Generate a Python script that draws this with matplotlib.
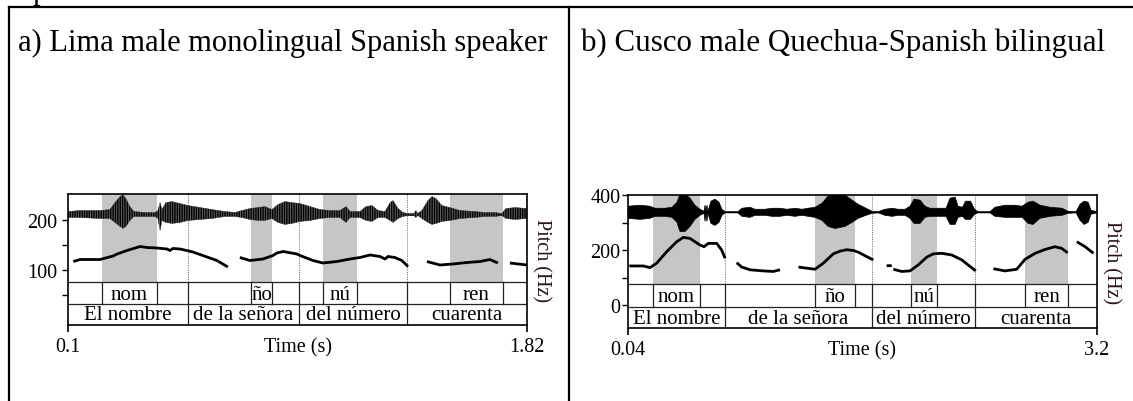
import matplotlib
matplotlib.use("Agg")
import matplotlib.pyplot as plt
from matplotlib.lines import Line2D
import numpy as np

plt.rcParams['font.family'] = ['Liberation Serif', 'DejaVu Serif']
plt.rcParams['hatch.linewidth'] = 1.0
plt.rcParams['hatch.color'] = 'black'

W, H, DPI = 1133, 402, 100
nan = np.nan

# ---------------- Panel a data ----------------
a_title = "a) Lima male monolingual Spanish speaker"
a_time_range = [0.1, 1.82]
a_time_labels = ["0.1", "1.82"]
a_pitch_range = [-10, 252]
a_pitch_major = [100, 200]
a_pitch_minor = [50, 150]
a_syllables = ["nom", "ño", "nú", "ren"]
a_syll_start = [0.227, 0.786, 1.055, 1.531]
a_syll_end = [0.433, 0.864, 1.183, 1.730]
a_words = ["El nombre", "de la señora", "del número", "cuarenta"]
a_word_bounds = [0.1, 0.550, 0.966, 1.370, 1.82]
a_f0_time = [0.120, 0.145, 0.220, 0.269, 0.284, 0.321, 0.370, 0.396, 0.433, 0.471, 0.482, 0.493, 0.520,
             0.568, 0.621, 0.658, 0.699, nan,
             0.744, 0.782, 0.831, 0.868, 0.883, 0.906, 0.958, 0.969, 1.018, 1.055, 1.108, 1.157, 1.194,
             1.232, 1.269, 1.288, 1.299, 1.325, 1.351, 1.374, nan,
             1.445, 1.494, 1.542, 1.595, 1.644, 1.681, 1.711, nan,
             1.756, 1.820]
a_f0_hz = [117, 121, 121, 128, 132, 139, 147, 145, 144, 142, 139, 143, 142,
           136, 126, 119, 106, nan,
           125, 119, 122, 129, 134, 137, 132, 129, 119, 114, 117, 122, 125,
           130, 127, 122, 127, 125, 119, 107, nan,
           117, 110, 112, 115, 117, 121, 114, nan,
           114, 110]
a_wave_time = [0.100, 0.145, 0.220, 0.257, 0.276, 0.295, 0.306, 0.317, 0.332, 0.347, 0.389, 0.426,
               0.437, 0.445, 0.452, 0.467, 0.490, 0.520, 0.550, 0.595, 0.640, 0.688, 0.726, 0.752,
               0.782, 0.812, 0.838, 0.864, 0.887, 0.913, 0.939, 0.969, 1.007, 1.044, 1.082, 1.119,
               1.142, 1.157, 1.194, 1.217, 1.239, 1.262, 1.288, 1.307, 1.318, 1.337, 1.355, 1.374,
               1.396, 1.404, 1.411, 1.426, 1.449, 1.464, 1.479, 1.501, 1.531, 1.569, 1.625, 1.662,
               1.700, 1.726, 1.741, 1.775, 1.820]
a_wave_up = [.15, .2, .2, .25, .6, .9, 1.0, .8, .4, .15, .1, .1,
             .2, .6, .25, .6, .65, .55, .45, .35, .25, .15, .1, .2,
             .3, .35, .4, .25, .5, .65, .6, .55, .4, .25, .2, .2,
             .4, .15, .15, .4, .45, .2, .15, .6, .7, .3, .1, .05,
             .05, .2, .05, .2, .7, .9, .8, .45, .35, .2, .15, .1,
             .1, .05, .3, .35, .3]
a_wave_down = [.15, .15, .2, .2, .4, .6, .7, .6, .3, .1, .1, .1,
               .2, .8, .3, .4, .45, .4, .3, .25, .2, .1, .1, .15,
               .25, .3, .3, .2, .4, .5, .45, .35, .3, .2, .15, .15,
               .4, .15, .15, .3, .35, .15, .15, .3, .4, .2, .1, .05,
               .05, .15, .05, .2, .4, .5, .45, .35, .3, .2, .15, .1,
               .1, .05, .2, .25, .2]

# ---------------- Panel b data ----------------
b_title = "b) Cusco male Quechua-Spanish bilingual"
b_time_range = [0.04, 3.2]
b_time_labels = ["0.04", "3.2"]
b_pitch_range = [-83.6, 400]
b_pitch_major = [0, 200, 400]
b_pitch_minor = [100, 300]
b_syllables = ["nom", "ño", "nú", "ren"]
b_syll_start = [0.208, 1.300, 1.947, 2.715]
b_syll_end = [0.525, 1.570, 2.122, 3.005]
b_words = ["El nombre", "de la señora", "del número", "cuarenta"]
b_word_bounds = [0.04, 0.694, 1.684, 2.378, 3.2]
b_f0_time = [0.049, 0.143, 0.188, 0.233, 0.301, 0.368, 0.413, 0.458, 0.525, 0.552, 0.581, 0.638, 0.671,
             0.694, nan,
             0.772, 0.806, 0.862, 0.952, 1.019, 1.064, nan,
             1.188, 1.244, 1.300, 1.356, 1.423, 1.469, 1.514, 1.560, 1.592, 1.648, 1.693, nan,
             1.783, 1.817, nan,
             1.828, 1.884, 1.940, 1.996, 2.053, 2.097, 2.154, 2.221, 2.289, 2.345, 2.383, nan,
             2.502, 2.580, 2.659, 2.715, 2.783, 2.850, 2.917, 2.962, 3.002, nan,
             3.064, 3.120, 3.176]
b_f0_hz = [142, 142, 136, 152, 194, 230, 246, 242, 218, 212, 224, 224, 200,
           170, nan,
           154, 138, 128, 124, 122, 128, nan,
           138, 134, 130, 152, 186, 196, 201, 198, 192, 176, 164, nan,
           143, 143, nan,
           130, 122, 124, 146, 174, 186, 188, 182, 164, 140, 124, nan,
           132, 124, 130, 166, 188, 202, 212, 206, 190, nan,
           230, 212, 188]
b_wave_time = [0.040, 0.121, 0.188, 0.222, 0.289, 0.337, 0.370, 0.390, 0.424, 0.458, 0.491, 0.525,
               0.552, 0.559, 0.566, 0.572, 0.579, 0.599, 0.626, 0.653, 0.673, 0.694, 0.781, 0.808,
               0.862, 0.896, 0.963, 1.010, 1.064, 1.111, 1.165, 1.213, 1.253, 1.300, 1.347, 1.388,
               1.435, 1.502, 1.550, 1.590, 1.644, 1.684, 1.725, 1.772, 1.819, 1.860, 1.907, 1.940,
               1.967, 2.008, 2.041, 2.075, 2.143, 2.183, 2.210, 2.244, 2.264, 2.294, 2.314, 2.348,
               2.375, 2.398, 2.479, 2.513, 2.580, 2.648, 2.695, 2.736, 2.769, 2.816, 2.884, 2.965,
               3.005, 3.059, 3.086, 3.113, 3.140, 3.160, 3.200]
b_wave_up = [.3, .35, .3, .2, .2, .25, .5, .9, .9, .7, .35, .15,
             .05, .35, .05, .35, .05, .55, .65, .5, .15, .03, .03, .2,
             .25, .15, .15, .2, .2, .15, .2, .15, .2, .25, .45, .8,
             .95, .85, .6, .4, .2, .05, .03, .15, .2, .15, .15, .3,
             .65, .6, .3, .2, .2, .2, .7, .75, .3, .25, .55, .55,
             .15, .03, .03, .25, .35, .35, .3, .5, .55, .35, .25, .2,
             .05, .03, .4, .55, .5, .1, .03]
b_wave_down = [.3, .35, .3, .2, .2, .25, .5, .95, .95, .7, .35, .15,
               .05, .45, .05, .45, .05, .55, .65, .5, .15, .03, .03, .2,
               .25, .15, .15, .2, .2, .15, .2, .15, .2, .25, .4, .7,
               .8, .7, .5, .3, .15, .05, .03, .15, .2, .15, .15, .3,
               .55, .55, .25, .2, .2, .2, .6, .6, .25, .2, .35, .35,
               .1, .03, .03, .2, .25, .25, .25, .55, .6, .3, .2, .15,
               .05, .03, .4, .6, .5, .1, .03]

# ---------------- layout / style ----------------
PITCH_BOTTOM = 0.33    # axes fraction where the tiers start
TIER_MID = 0.159       # boundary between the two tiers
WAVE_AMP = 0.152       # axes fraction for amplitude 1
GRAY = '#c6c6c6'
FS = 14.5
TIER_FS = 15
TITLE_FS = 22

fig = plt.figure(figsize=(W / DPI, H / DPI), dpi=DPI)
fig.patch.set_facecolor('white')

# outer table lines
for (xs, ys) in [([9, W], [8, 8]), ([9, 9], [8, H]), ([569, 569], [8, H])]:
    fig.add_artist(Line2D([x / W for x in xs], [1 - y / H for y in ys],
                          transform=fig.transFigure, color='black', lw=1.6))

fig.text(33 / W, 1 + 1.5 / H, "p", fontsize=TITLE_FS, va='baseline', ha='left')
fig.text(18 / W, 1 - 51 / H, a_title, fontsize=TITLE_FS, va='baseline', ha='left')
fig.text(581 / W, 1 - 51 / H, b_title, fontsize=22.3, va='baseline', ha='left')


def draw_panel(rect, time_range, time_labels, pitch_range, major, minor,
               syll, s0, s1, words, wb, f0t, f0hz, wt, wup, wdn,
               wave_base, ylab_pad, tier_base1, tier_base2, textured):
    x0, y0, x1, y1 = rect
    hpx = y1 - y0
    ax = fig.add_axes([x0 / W, 1 - y1 / H, (x1 - x0) / W, hpx / H])
    ax.set_xlim(time_range)
    ax.set_ylim(pitch_range)
    ax.set_facecolor('white')
    xt = ax.get_xaxis_transform()

    # shaded stressed syllables in pitch area
    for a, b in zip(s0, s1):
        ax.axvspan(a, b, ymin=PITCH_BOTTOM, ymax=1, color=GRAY, lw=0, zorder=1)

    # word boundaries
    for b in wb[1:-1]:
        ax.plot([b, b], [PITCH_BOTTOM, 1], transform=xt, color='#777777', lw=0.7,
                ls=(0, (1.2, 1.2)), zorder=2)
        ax.plot([b, b], [0, PITCH_BOTTOM], transform=xt, color='#222222', lw=0.9, zorder=3)
    # syllable boundaries in tier 1
    for b in list(s0) + list(s1):
        ax.plot([b, b], [TIER_MID, PITCH_BOTTOM], transform=xt, color='#222222', lw=0.9, zorder=3)
    ax.plot(time_range, [PITCH_BOTTOM] * 2, transform=xt, color='#222222', lw=0.9, zorder=3)
    ax.plot(time_range, [TIER_MID] * 2, transform=xt, color='#222222', lw=0.9, zorder=3)

    # waveform
    wt = np.asarray(wt)
    up = wave_base + np.asarray(wup) * WAVE_AMP
    dn = wave_base - np.asarray(wdn) * WAVE_AMP
    ax.plot(time_range, [wave_base] * 2, transform=xt, color='black', lw=0.7, zorder=4)
    px = np.concatenate([wt, wt[::-1]])
    py = np.concatenate([up, dn[::-1]])
    if textured:
        ax.fill(px, py, transform=xt, facecolor='#606060', edgecolor='black',
                hatch='|||||||', lw=0, zorder=4)
        ax.fill(px, py, transform=xt, facecolor='none', edgecolor='#333333',
                lw=0.3, zorder=4)
    else:
        ax.fill(px, py, transform=xt, color='black', lw=0.5, zorder=4)

    # pitch contour
    ax.plot(f0t, f0hz, color='black', lw=2.0, solid_capstyle='butt', zorder=5)

    # tier labels
    for lab, a, b in zip(syll, s0, s1):
        ax.text((a + b) / 2, tier_base1, lab, transform=xt, ha='center', va='baseline',
                fontsize=TIER_FS, zorder=6)
    for i, lab in enumerate(words):
        ax.text((wb[i] + wb[i + 1]) / 2, tier_base2, lab, transform=xt, ha='center',
                va='baseline', fontsize=TIER_FS, zorder=6)

    # axes styling
    for s in ax.spines.values():
        s.set_linewidth(1.2)
        s.set_zorder(7)
    ax.set_yticks(major)
    ax.set_yticklabels([str(v) for v in major])
    ax.set_yticks(minor, minor=True)
    ax.tick_params(axis='y', which='both', direction='out', length=4, width=1.0,
                   labelsize=FS, pad=ylab_pad, right=False)
    ax.set_xticks(time_range)
    ax.set_xticklabels(time_labels)
    ax.tick_params(axis='x', which='both', direction='out', length=5, width=1.2,
                   labelsize=FS, pad=3.5, top=False)
    ax.set_xlabel("Time (s)", fontsize=FS)
    ax.xaxis.set_label_coords(0.5, -(7 + 4.9) / hpx)
    ax.text(1.0305, 0.5, "Pitch (Hz)", rotation=-90, ha='center', va='center',
            transform=ax.transAxes, fontsize=FS, color='#2a1018')
    return ax


draw_panel((68, 195, 527, 326), a_time_range, a_time_labels, a_pitch_range,
           a_pitch_major, a_pitch_minor, a_syllables, a_syll_start, a_syll_end,
           a_words, a_word_bounds, a_f0_time, a_f0_hz, a_wave_time, a_wave_up,
           a_wave_down, wave_base=0.8435, ylab_pad=4.0,
           tier_base1=(326 - 300) / 131, tier_base2=(326 - 320) / 131, textured=True)

draw_panel((628, 196, 1097, 329), b_time_range, b_time_labels, b_pitch_range,
           b_pitch_major, b_pitch_minor, b_syllables, b_syll_start, b_syll_end,
           b_words, b_word_bounds, b_f0_time, b_f0_hz, b_wave_time, b_wave_up,
           b_wave_down, wave_base=0.870, ylab_pad=1.5,
           tier_base1=(329 - 302) / 133, tier_base2=(329 - 324) / 133, textured=False)

fig.savefig("out.png", dpi=DPI, facecolor='white')
